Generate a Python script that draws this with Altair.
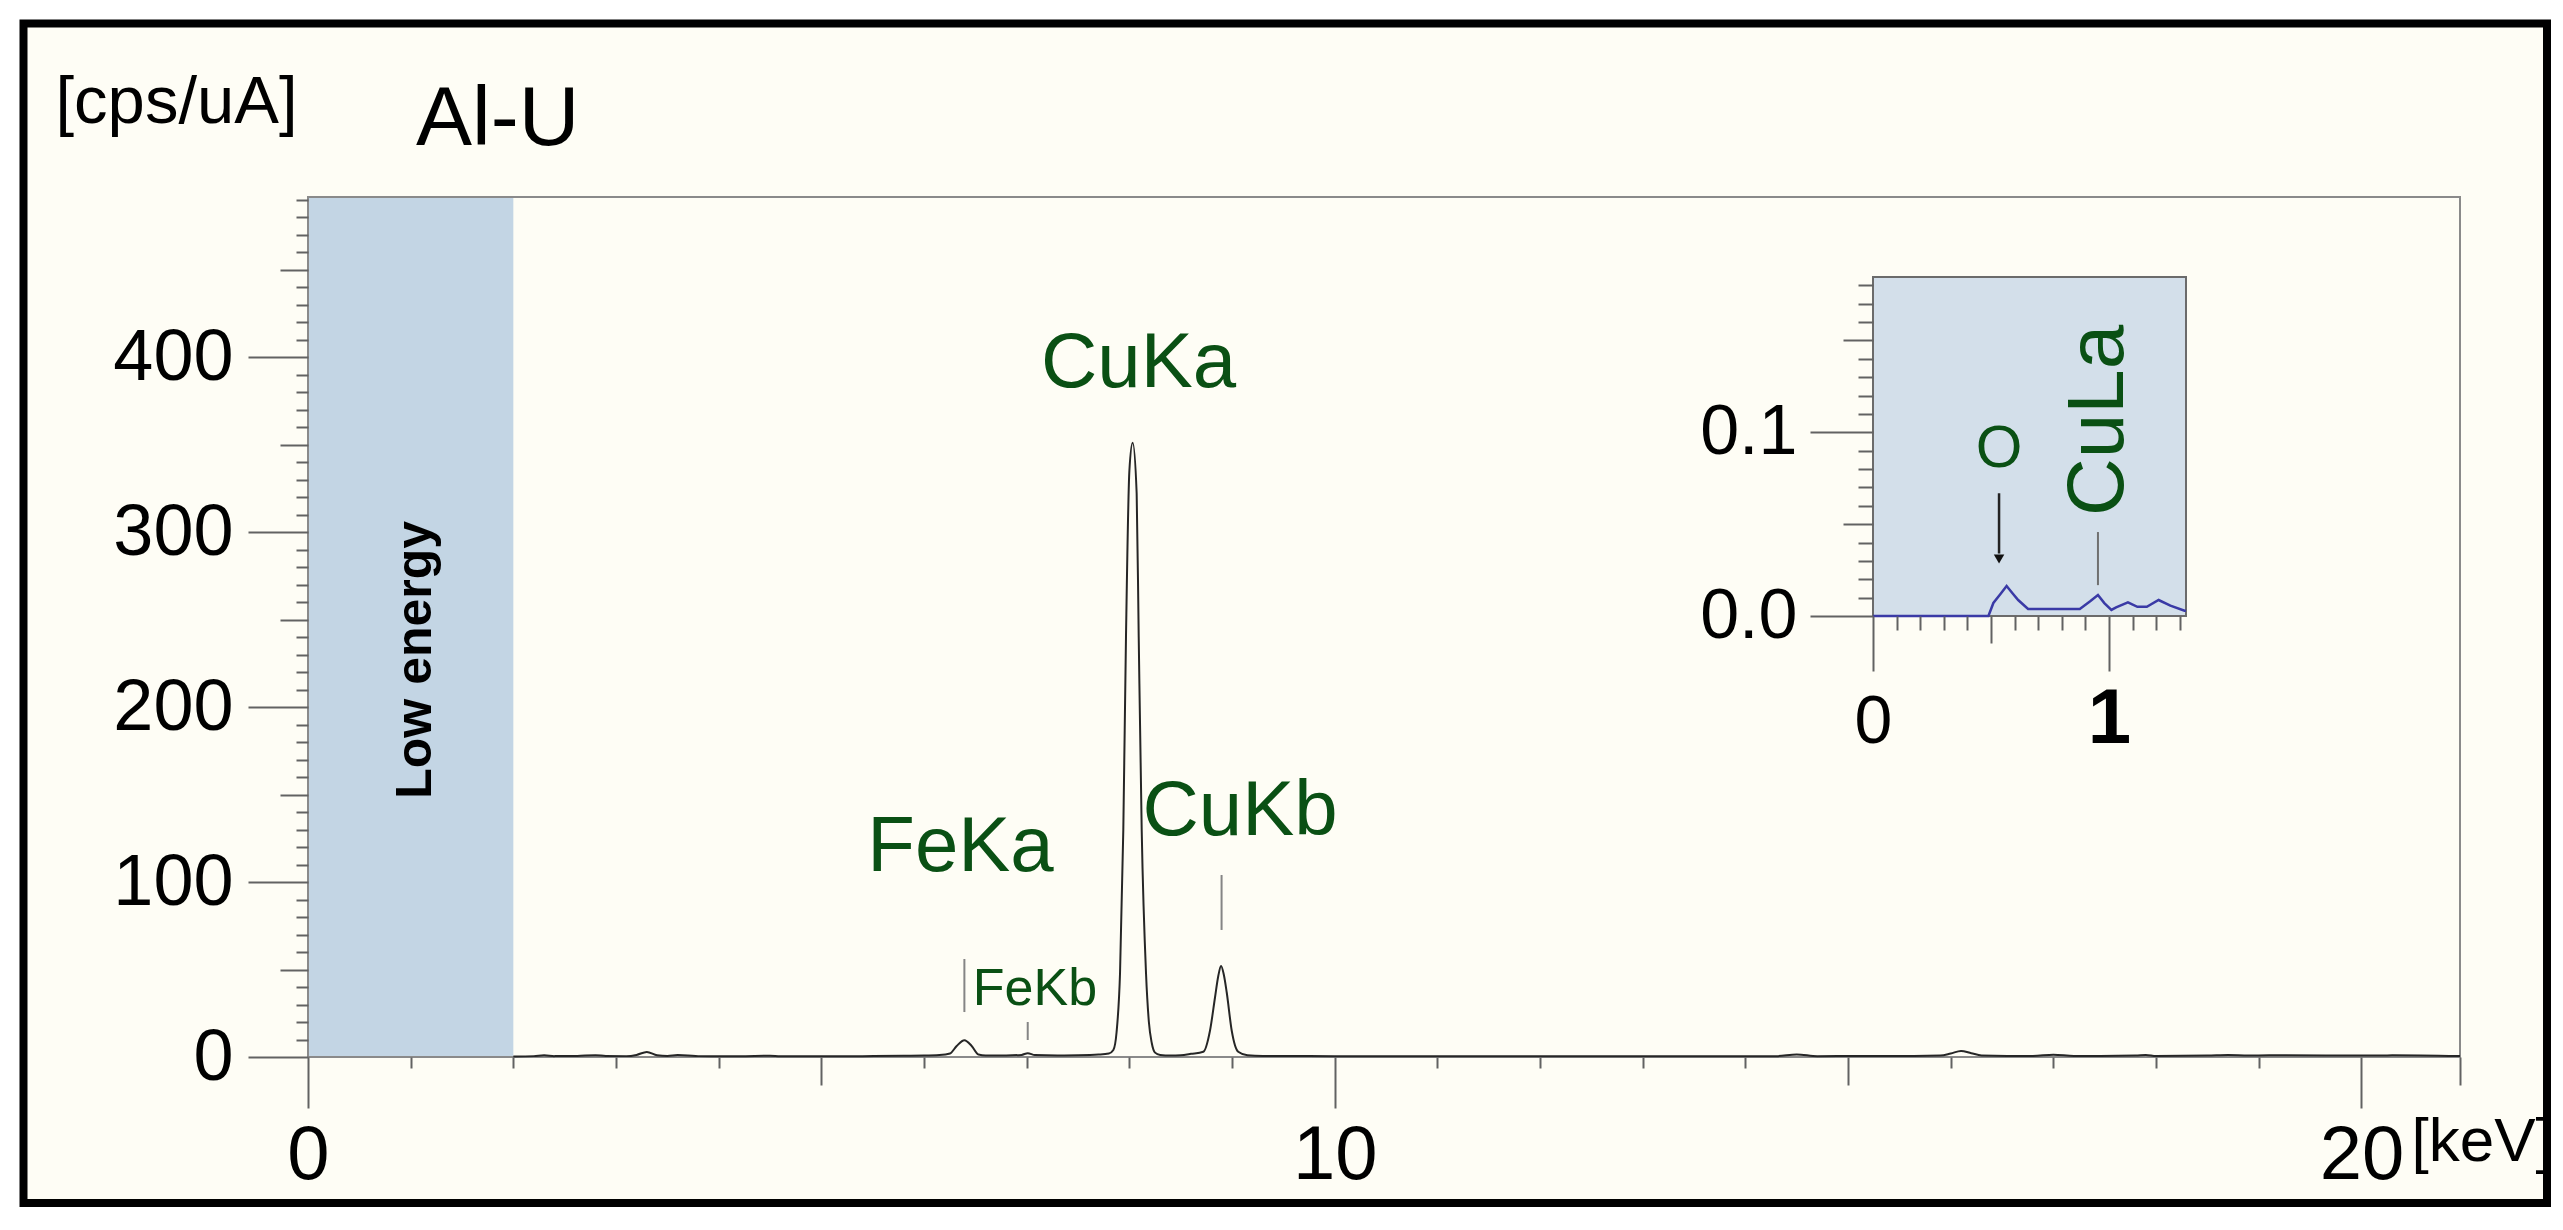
import altair as alt
import pandas as pd

FONT = "Liberation Sans"
GREEN = "#0a5014"
TICK = "#626262"

# ---------------- data ----------------
chart_title = ["Al-U"]

energy = [2.0, 2.2, 2.3, 2.4, 2.6, 2.7, 2.8, 2.9, 3.1, 3.2,
          3.3, 3.4, 3.5, 3.6, 3.7, 3.8, 4.2, 4.5, 4.6, 5.0,
          5.4, 5.8, 6.0, 6.15, 6.253, 6.318, 6.393, 6.464, 6.53, 6.6,
          6.8, 6.95, 7.01, 7.08, 7.3, 7.5, 7.7, 7.8, 7.844, 7.875,
          7.909, 7.941, 7.967, 8.0, 8.032, 8.071, 8.091, 8.12, 8.162, 8.19,
          8.218, 8.25, 8.3, 8.4, 8.5, 8.6, 8.72, 8.785, 8.834, 8.865,
          8.893, 8.92, 8.948, 8.997, 9.06, 9.15, 9.3, 10.0, 11.0, 12.0,
          13.0, 14.3, 14.5, 14.7, 15.5, 15.9, 16.0, 16.1, 16.2, 16.3,
          16.8, 17.0, 17.2, 17.8, 17.9, 18.0, 18.5, 18.7, 18.9, 19.1,
          20.2, 20.3, 20.96]
counts = [0.3, 0.5, 1.0, 0.5, 0.6, 0.9, 1.0, 0.6, 0.5, 1.2,
          2.9, 1.0, 0.6, 1.1, 0.9, 0.5, 0.4, 0.7, 0.4, 0.4,
          0.5, 0.7, 0.8, 1.1, 2.0, 6.3, 9.6, 6.3, 1.4, 0.9,
          0.9, 1.2, 2.2, 1.1, 0.9, 1.0, 1.4, 2.0, 4.0, 14.0,
          48.0, 130.0, 240.0, 335.0, 351.0, 322.0, 240.0, 130.0, 48.0, 20.0,
          8.0, 2.5, 1.2, 0.8, 1.0, 1.8, 3.0, 15.0, 34.0, 46.0,
          52.0, 47.0, 37.0, 15.0, 3.0, 1.0, 0.6, 0.5, 0.4, 0.5,
          0.4, 0.5, 1.5, 0.5, 0.6, 0.8, 2.0, 3.5, 2.2, 0.9,
          0.6, 1.3, 0.6, 0.8, 1.2, 0.6, 0.8, 1.1, 0.8, 1.0,
          0.8, 1.0, 0.5]
assert len(energy) == len(counts)

inset_energy = [0.0, 0.489, 0.51, 0.54, 0.566, 0.59, 0.615, 0.657, 0.876, 0.92,
                0.953, 0.98, 1.01, 1.03, 1.08, 1.12, 1.16, 1.21, 1.26, 1.32, 1.326]
inset_counts = [0.0, 0.0, 0.0071, 0.012, 0.0163, 0.0125, 0.0087, 0.0038, 0.0038, 0.008,
                0.0114, 0.007, 0.0033, 0.0047, 0.0074, 0.005, 0.005, 0.0087, 0.0056, 0.0029, 0.0028]
assert len(inset_energy) == len(inset_counts)

big_labels = ["FeKa", "CuKa", "CuKb"]
big_label_x = [6.355, 8.089, 9.078]
big_label_y = [119.7, 396.0, 140.0]
small_labels = ["FeKb"]
small_label_x = [7.08]
small_label_y = [39.1]
marker_x = [6.393, 7.01, 8.898]
marker_lo = [25.7, 9.7, 72.6]
marker_hi = [56.0, 20.0, 104.0]

band_text = ["Low energy"]
band_lo, band_hi = [0.0], [2.0]

X_MAX, Y_MAX = 20.96, 491.5
IX_MAX, IY_MAX = 1.326, 0.1845

y_major = [0, 100, 200, 300, 400]
y_mid = [50, 150, 250, 350, 450]
y_minor = [v for v in range(10, 491, 10) if v % 50 != 0]
x_major = [0, 10, 20]
x_mid = [5, 15, 20.959]
x_minor = [v for v in range(1, 20) if v % 5 != 0]

inset_labels_o = ["O"]
inset_o_x, inset_o_y = [0.534], [0.0908]
inset_labels_cula = ["CuLa"]
inset_cula_x, inset_cula_y = [0.958], [0.1065]
inset_marker_x, inset_marker_lo, inset_marker_hi = [0.953], [0.0168], [0.0457]
arrow_x, arrow_from, arrow_to, arrow_head = [0.534], [0.0668], [0.034], [0.031]

iy_major = [0.0, 0.1]
iy_mid = [0.05, 0.15]
iy_minor = [round(i * 0.01, 2) for i in range(1, 19) if i not in (5, 10, 15)]
ix_major = [0, 1]
ix_mid = [0.5]
ix_minor = [round(i * 0.1, 1) for i in range(1, 14) if i not in (5, 10)]

# ---------------- scales ----------------
X = alt.Scale(domain=[0, X_MAX], nice=False, zero=False)
Y = alt.Scale(domain=[0, Y_MAX], nice=False, zero=False)
IX = alt.Scale(domain=[0, IX_MAX], range=[1565, 1878], nice=False, zero=False)
IY = alt.Scale(domain=[0, IY_MAX], range=[419, 80], nice=False, zero=False)

one = pd.DataFrame({"k": [0.0]})

def xq(f, s):
    return alt.X(f, type="quantitative", scale=s, axis=None)

def yq(f, s):
    return alt.Y(f, type="quantitative", scale=s, axis=None)

# ---------------- main panel ----------------
frame = alt.Chart(one).mark_rect(fill="#FEFDF5", stroke="black", strokeWidth=8).encode(
    x=alt.value(-284.5), x2=alt.value(2239), y=alt.value(-173.5), y2=alt.value(1006))

title = alt.Chart(pd.DataFrame({"t": chart_title})).mark_text(
    font=FONT, fontSize=84, align="left", baseline="alphabetic", color="black"
).encode(x=alt.value(108), y=alt.value(-52), text="t:N")

band_df = pd.DataFrame({"a": band_lo, "b": band_hi, "c": [0.0], "d": [Y_MAX]})
band = alt.Chart(band_df).mark_rect(color="#C3D5E4").encode(
    x=xq("a", X), x2="b", y=yq("c", Y), y2="d")

band_lbl = alt.Chart(pd.DataFrame({"t": band_text, "x": [1.05], "y": [227.0]})).mark_text(
    font=FONT, fontSize=50, fontWeight="bold", angle=270, color="black",
    align="center", baseline="middle"
).encode(x=xq("x", X), y=yq("y", Y), text="t:N")

border_df = pd.DataFrame({"a": [0.0], "b": [X_MAX], "c": [0.0], "d": [Y_MAX]})
border = alt.Chart(border_df).mark_rect(fillOpacity=0, stroke="#8a8a8a", strokeWidth=2).encode(
    x=xq("a", X), x2="b", y=yq("c", Y), y2="d")

spec = alt.Chart(pd.DataFrame({"keV": energy, "cps": counts})).mark_line(
    color="#262626", strokeWidth=2, interpolate="monotone"
).encode(x=xq("keV", X), y=yq("cps", Y))

mk = alt.Chart(pd.DataFrame({"x": marker_x, "lo": marker_lo, "hi": marker_hi})).mark_rule(
    color="#858585", strokeWidth=2
).encode(x=xq("x", X), y=yq("lo", Y), y2="hi")

big = alt.Chart(pd.DataFrame({"t": big_labels, "x": big_label_x, "y": big_label_y})).mark_text(
    font=FONT, fontSize=78, color=GREEN, align="center", baseline="middle"
).encode(x=xq("x", X), y=yq("y", Y), text="t:N")

small = alt.Chart(pd.DataFrame({"t": small_labels, "x": small_label_x, "y": small_label_y})).mark_text(
    font=FONT, fontSize=52, color=GREEN, align="center", baseline="middle"
).encode(x=xq("x", X), y=yq("y", Y), text="t:N")

def axis_layer(channel, scale, orient, values, size, offset=0, **kw):
    base = dict(orient=orient, values=values, tickSize=size, tickWidth=2, tickColor=TICK,
                domain=False, grid=False, zindex=1, offset=offset, labelOverlap=False,
                labelFlush=False)
    if "labels" not in kw:
        base["labels"] = False
    if "title" not in kw:
        base["title"] = None
    base.update(kw)
    ax = alt.Axis(**base)
    if channel == "y":
        enc = {"y": alt.Y("k", type="quantitative", scale=scale, axis=ax)}
    else:
        enc = {"x": alt.X("k", type="quantitative", scale=scale, axis=ax)}
    return alt.Chart(one).mark_point(opacity=0).encode(**enc)

ya1 = axis_layer("y", Y, "left", y_major, 60, labels=True, labelFont=FONT, labelFontSize=72,
                 labelPadding=15, labelColor="black", format="d",
                 title="[cps/uA]", titleAngle=0, titleX=-253, titleY=-75, titleAlign="left",
                 titleBaseline="alphabetic", titleFont=FONT, titleFontSize=67,
                 titleFontWeight="normal", titleColor="black")
ya2 = axis_layer("y", Y, "left", y_mid, 28)
ya3 = axis_layer("y", Y, "left", y_minor, 12)
xa1 = axis_layer("x", X, "bottom", x_major, 51, labels=True, labelFont=FONT, labelFontSize=76,
                 labelPadding=70, labelBaseline="alphabetic", labelColor="black", labelAngle=0,
                 format="d",
                 title="[keV]", titleAngle=0, titleX=2103, titleY=103, titleAlign="left",
                 titleBaseline="alphabetic", titleFont=FONT, titleFontSize=62,
                 titleFontWeight="normal", titleColor="black")
xa2 = axis_layer("x", X, "bottom", x_mid, 28)
xa3 = axis_layer("x", X, "bottom", x_minor, 11)

main = alt.layer(frame, title, band, band_lbl, border, spec, mk, big, small,
                 ya1, ya2, ya3, xa1, xa2, xa3).resolve_axis(x="independent", y="independent")

# ---------------- inset ----------------
ibox_df = pd.DataFrame({"a": [0.0], "b": [IX_MAX], "c": [0.0], "d": [IY_MAX]})
ibox = alt.Chart(ibox_df).mark_rect(fill="#D3DFEA", stroke="#6b6b6b", strokeWidth=2).encode(
    x=xq("a", IX), x2="b", y=yq("c", IY), y2="d")

iline = alt.Chart(pd.DataFrame({"e": inset_energy, "v": inset_counts})).mark_line(
    color="#3a3aa6", strokeWidth=2.5
).encode(x=xq("e", IX), y=yq("v", IY))

imk = alt.Chart(pd.DataFrame({"x": inset_marker_x, "lo": inset_marker_lo, "hi": inset_marker_hi})).mark_rule(
    color="#707070", strokeWidth=2
).encode(x=xq("x", IX), y=yq("lo", IY), y2="hi")

iarrow = alt.Chart(pd.DataFrame({"x": arrow_x, "lo": arrow_to, "hi": arrow_from})).mark_rule(
    color="#222222", strokeWidth=2.5
).encode(x=xq("x", IX), y=yq("lo", IY), y2="hi")

ihead = alt.Chart(pd.DataFrame({"x": arrow_x, "y": arrow_head})).mark_point(
    shape="triangle-down", filled=True, size=110, color="#111111", opacity=1
).encode(x=xq("x", IX), y=yq("y", IY))

o_txt = alt.Chart(pd.DataFrame({"t": inset_labels_o, "x": inset_o_x, "y": inset_o_y})).mark_text(
    font=FONT, fontSize=60, color=GREEN, align="center", baseline="middle"
).encode(x=xq("x", IX), y=yq("y", IY), text="t:N")

cula_txt = alt.Chart(pd.DataFrame({"t": inset_labels_cula, "x": inset_cula_x, "y": inset_cula_y})).mark_text(
    font=FONT, fontSize=80, color=GREEN, angle=270, align="center", baseline="middle"
).encode(x=xq("x", IX), y=yq("y", IY), text="t:N")

iya1 = axis_layer("y", IY, "left", iy_major, 63, offset=-1565, labels=True, labelFont=FONT,
                  labelFontSize=70, labelPadding=13, labelColor="black", format=".1f")
iya2 = axis_layer("y", IY, "left", iy_mid, 30, offset=-1565)
iya3 = axis_layer("y", IY, "left", iy_minor, 15, offset=-1565)
ixa1 = axis_layer("x", IX, "bottom", ix_major, 55, offset=-441, labels=True, labelFont=FONT,
                  labelFontSize={"condition": {"test": "datum.value == 1", "value": 78}, "value": 68},
                  labelFontWeight={"condition": {"test": "datum.value == 1", "value": "bold"}, "value": "normal"},
                  labelPadding=71, labelBaseline="alphabetic", labelColor="black", labelAngle=0,
                  format="d")
ixa2 = axis_layer("x", IX, "bottom", ix_mid, 27, offset=-441)
ixa3 = axis_layer("x", IX, "bottom", ix_minor, 14, offset=-441)

inset = alt.layer(ibox, iline, imk, iarrow, ihead, o_txt, cula_txt,
                  iya1, iya2, iya3, ixa1, ixa2, ixa3).resolve_axis(x="independent", y="independent")

chart = alt.layer(main, inset).resolve_scale(x="independent", y="independent").properties(
    width=2152, height=860,
    padding={"left": 300, "top": 189, "right": 94, "bottom": 157},
    autosize=alt.AutoSizeParams(type="none"),
).configure(background="white").configure_view(stroke=None)

chart.save("out.html", embed_options={"renderer": "svg", "actions": False})
